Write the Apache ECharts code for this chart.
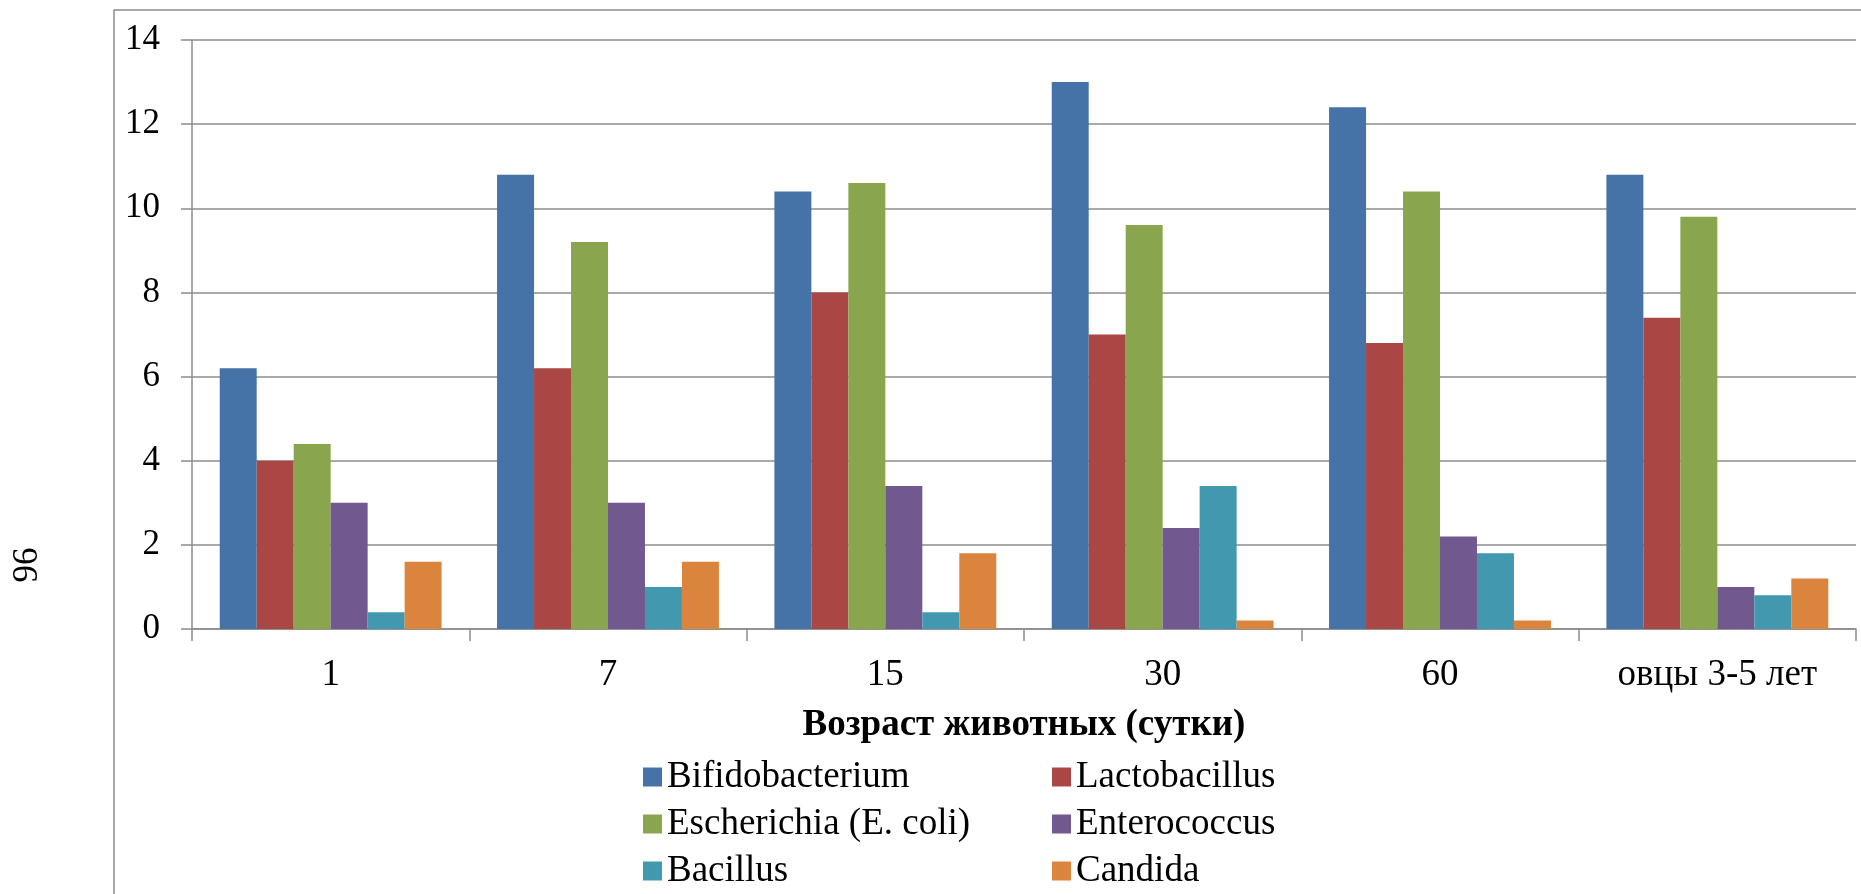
<!DOCTYPE html>
<html>
<head>
<meta charset="utf-8">
<script src="https://cdn.jsdelivr.net/npm/echarts@6/dist/echarts.min.js"></script>
<style>
html,body{margin:0;padding:0;background:#fff;}
#chart{width:1861px;height:894px;}
</style>
</head>
<body>
<div id="chart"></div>
<script>
const categories = ['1', '7', '15', '30', '60', 'овцы 3-5 лет'];
const seriesNames = ['Bifidobacterium', 'Lactobacillus', 'Escherichia (E. coli)', 'Enterococcus', 'Bacillus', 'Candida'];
const bifidobacterium = [6.2, 10.8, 10.4, 13.0, 12.4, 10.8];
const lactobacillus = [4.0, 6.2, 8.0, 7.0, 6.8, 7.4];
const escherichia = [4.4, 9.2, 10.6, 9.6, 10.4, 9.8];
const enterococcus = [3.0, 3.0, 3.4, 2.4, 2.2, 1.0];
const bacillus = [0.4, 1.0, 0.4, 3.4, 1.8, 0.8];
const candida = [1.6, 1.6, 1.8, 0.2, 0.2, 1.2];
const yTicks = [0, 2, 4, 6, 8, 10, 12, 14];
const xAxisTitle = 'Возраст животных (сутки)';
const pageNumber = '96';

const colors = ['#4572A7', '#AA4643', '#89A54E', '#71588F', '#4198AF', '#DB843D'];
const values = [bifidobacterium, lactobacillus, escherichia, enterococcus, bacillus, candida];
const FONT = '"Liberation Serif", "Times New Roman", serif';
const GRAY = '#8c8c8c';

const chart = echarts.init(document.getElementById('chart'));
function makeLegend(left, names) {
  return {
    orient: 'vertical',
    left: left,
    top: 757,
    height: 200,
    padding: 0,
    icon: 'rect',
    itemWidth: 19,
    itemHeight: 19,
    itemGap: 7,
    data: names,
    textStyle: { fontFamily: FONT, fontSize: 37, color: '#000', lineHeight: 40 },
    selectedMode: false
  };
}
chart.setOption({
  animation: false,
  color: colors,
  grid: { left: 192, right: 5, top: 40, bottom: 265 },
  legend: [
    makeLegend(643, [seriesNames[0], seriesNames[2], seriesNames[4]]),
    makeLegend(1052, [seriesNames[1], seriesNames[3], seriesNames[5]])
  ],
  xAxis: {
    type: 'category',
    data: categories,
    name: xAxisTitle,
    nameLocation: 'middle',
    nameGap: 78,
    nameTextStyle: { fontFamily: FONT, fontSize: 37, fontWeight: 'bold', color: '#000', verticalAlign: 'top' },
    axisLine: { lineStyle: { color: GRAY, width: 1.5 } },
    axisTick: { show: true, length: 12, lineStyle: { color: GRAY, width: 1.5 } },
    axisLabel: { fontFamily: FONT, fontSize: 37, color: '#000', margin: 28 }
  },
  yAxis: {
    type: 'value',
    min: yTicks[0],
    max: yTicks[yTicks.length - 1],
    interval: yTicks[1] - yTicks[0],
    axisLine: { show: true, lineStyle: { color: GRAY, width: 1.5 } },
    axisTick: { show: true, length: 11, lineStyle: { color: GRAY, width: 1.5 } },
    splitLine: { lineStyle: { color: GRAY, width: 1.5 } },
    axisLabel: { fontFamily: FONT, fontSize: 35, color: '#000', margin: 32 }
  },
  series: seriesNames.map((name, i) => ({
    name: name,
    type: 'bar',
    data: values[i],
    barGap: '0%',
    barCategoryGap: '20%',
    itemStyle: { color: colors[i] }
  })),
  graphic: [
    {
      type: 'rect',
      shape: { x: 114, y: 10, width: 2000, height: 1200 },
      style: { fill: 'none', stroke: GRAY, lineWidth: 1.5 },
      silent: true
    },
    {
      type: 'text',
      x: 28,
      y: 565,
      rotation: Math.PI / 2,
      style: { text: pageNumber, fontFamily: FONT, fontSize: 35, fill: '#000', align: 'center', verticalAlign: 'middle' }
    }
  ]
});
</script>
</body>
</html>
